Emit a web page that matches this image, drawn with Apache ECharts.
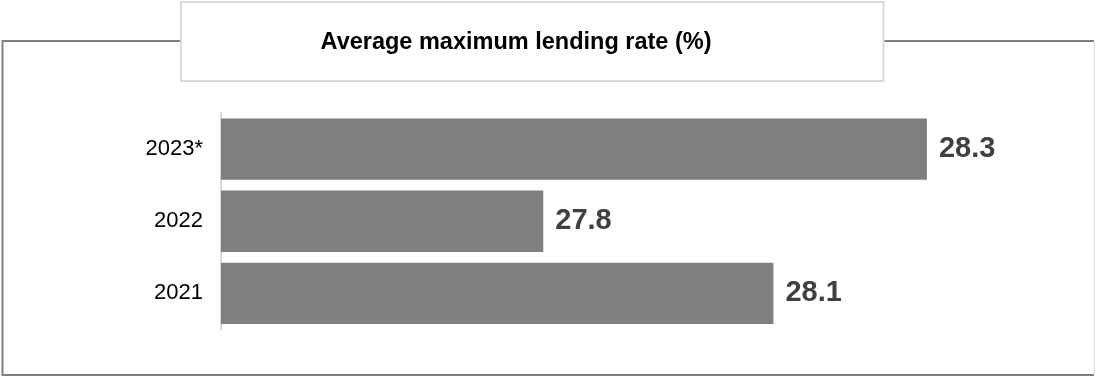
<!DOCTYPE html>
<html>
<head>
<meta charset="utf-8">
<script src="https://cdn.jsdelivr.net/npm/echarts@6/dist/echarts.min.js"></script>
<style>
  html, body { margin: 0; padding: 0; background: #ffffff; }
  #chart { width: 1095px; height: 376px; }
</style>
</head>
<body>
<div id="chart"></div>
<script>
// Years, bottom to top
const categories = ['2021', '2022', '2023*'];
// Average maximum lending rate (%)
const rates = [28.1, 27.8, 28.3];
const chartTitle = 'Average maximum lending rate (%)';

const FONT = '"Liberation Sans", Arial, Helvetica, sans-serif';

const chart = echarts.init(document.getElementById('chart'), null, { renderer: 'canvas' });

chart.setOption({
  backgroundColor: '#ffffff',
  animation: false,
  graphic: [
    // outer frame
    { type: 'line', shape: { x1: 2.5, y1: 41, x2: 181, y2: 41 }, style: { stroke: '#808080', lineWidth: 2 } },
    { type: 'line', shape: { x1: 884, y1: 41, x2: 1094, y2: 41 }, style: { stroke: '#808080', lineWidth: 2 } },
    { type: 'line', shape: { x1: 2.5, y1: 40, x2: 2.5, y2: 375 }, style: { stroke: '#808080', lineWidth: 2 } },
    { type: 'line', shape: { x1: 1.5, y1: 375, x2: 1094, y2: 375 }, style: { stroke: '#808080', lineWidth: 2 } },
    { type: 'line', shape: { x1: 1094.5, y1: 42, x2: 1094.5, y2: 374 }, style: { stroke: '#d9d9d9', lineWidth: 1 } },
    // title box
    { type: 'rect', shape: { x: 181, y: 2, width: 702.5, height: 79 }, style: { fill: '#ffffff', stroke: '#d9d9d9', lineWidth: 2 }, z: 10 },
    // title text
    {
      type: 'text', x: 516, y: 43, z: 20,
      style: {
        text: chartTitle, align: 'center', verticalAlign: 'middle',
        font: 'bold 23.5px ' + FONT, fill: '#000000'
      }
    }
  ],
  grid: { left: 221, right: 30, top: 113, height: 216.5, containLabel: false },
  xAxis: {
    type: 'value',
    min: 27.38,
    max: 28.48,
    show: false
  },
  yAxis: {
    type: 'category',
    data: categories,
    axisLine: { show: true, lineStyle: { color: '#d9d9d9', width: 2 } },
    axisTick: { show: false },
    axisLabel: { fontFamily: FONT, fontSize: 22, color: '#000000', margin: 18 }
  },
  series: [{
    type: 'bar',
    data: rates,
    barCategoryGap: '15%',
    itemStyle: { color: '#7f7f7f' },
    label: {
      show: true,
      position: 'right',
      distance: 12,
      fontFamily: FONT,
      fontSize: 29,
      fontWeight: 'bold',
      color: '#404040',
      formatter: p => p.value.toFixed(1)
    }
  }]
});
</script>
</body>
</html>
